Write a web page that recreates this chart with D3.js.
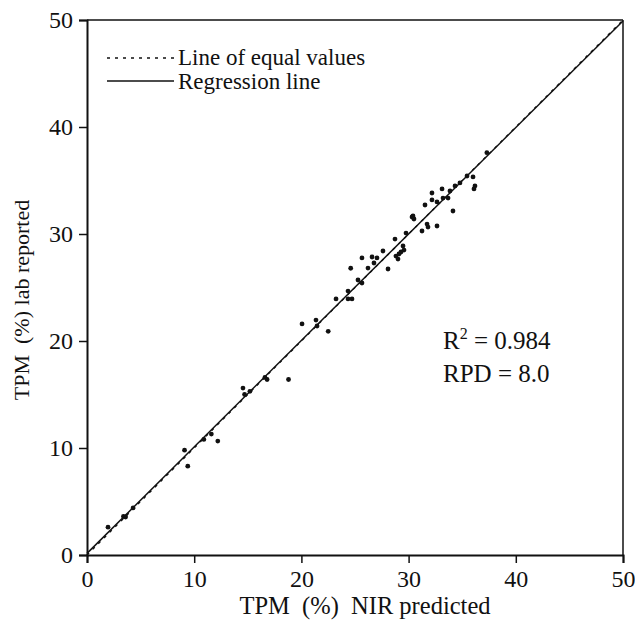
<!DOCTYPE html>
<html>
<head>
<meta charset="utf-8">
<script src="https://cdn.jsdelivr.net/npm/d3@7"></script>
<style>
  body { margin: 0; background: #fff; }
  text { font-family: "Liberation Serif", "Times New Roman", serif; fill: #111; }
</style>
</head>
<body>
<script>
var width = 635;
var height = 623;

// NIR predicted (x) vs lab reported (y)
var nirPredicted = [1.96, 3.4, 3.6, 4.3, 9.1, 9.4, 10.9, 11.6, 12.2, 14.55, 14.7, 15.2, 16.6, 16.8, 18.8,
  20.06, 21.36, 21.46, 22.5, 23.23, 24.35, 24.35, 24.72, 24.6, 25.28, 25.65, 25.65, 26.21, 26.59, 26.77,
  27.05, 27.61, 28.08, 28.73, 28.82, 29.01, 29.10, 29.29, 29.48, 29.57, 29.76, 30.32, 30.41, 30.50, 31.25,
  31.53, 31.72, 31.81, 32.18, 32.18, 32.65, 32.65, 33.12, 33.21, 33.68, 33.86, 34.14, 34.33, 34.79, 35.45,
  36.01, 36.19, 36.10, 37.3];
var labReported = [2.6, 3.6, 3.55, 4.4, 9.8, 8.3, 10.8, 11.3, 10.65, 15.6, 15.0, 15.3, 16.6, 16.4, 16.4,
  21.6, 21.96, 21.4, 20.9, 23.93, 24.67, 23.93, 23.93, 26.8, 25.7, 25.42, 27.76, 26.82, 27.85, 27.29,
  27.76, 28.41, 26.73, 29.53, 27.94, 27.66, 28.13, 28.32, 28.88, 28.5, 30.09, 31.59, 31.68, 31.4, 30.28,
  32.71, 30.93, 30.65, 33.83, 33.18, 33.0, 30.75, 34.21, 33.36, 33.36, 34.02, 32.15, 34.49, 34.77, 35.42,
  35.33, 34.49, 34.21, 37.6];

var tickValues = [0, 10, 20, 30, 40, 50];
var regression = {slope: 0.995, intercept: 0.15};
var statLines = ["R\u00b2 = 0.984", "RPD = 8.0"];

var svg = d3.select("body").append("svg")
    .attr("width", width)
    .attr("height", height);

var x = d3.scaleLinear().domain([0, 50]).range([87, 623]);
var y = d3.scaleLinear().domain([0, 50]).range([555, 20]);

// frame top/right
svg.append("line").attr("x1", x(0)).attr("x2", x(50)).attr("y1", y(50)).attr("y2", y(50))
    .attr("stroke", "#111").attr("stroke-width", 1.5);
svg.append("line").attr("x1", x(50)).attr("x2", x(50)).attr("y1", y(0)).attr("y2", y(50))
    .attr("stroke", "#111").attr("stroke-width", 1.5);

var xAxis = svg.append("g")
    .attr("transform", "translate(0," + y(0) + ")")
    .call(d3.axisBottom(x).tickValues(tickValues).tickSize(8).tickPadding(7));
var yAxis = svg.append("g")
    .attr("transform", "translate(" + x(0) + ",0)")
    .call(d3.axisLeft(y).tickValues(tickValues).tickSize(8).tickPadding(6));

[xAxis, yAxis].forEach(function(g) {
    g.select(".domain").attr("stroke", "#111").attr("stroke-width", 2);
    g.selectAll(".tick line").attr("stroke", "#111").attr("stroke-width", 1.5);
    g.selectAll(".tick text").attr("font-size", "24px").attr("font-family", "Liberation Serif").attr("fill", "#111");
});

// lines
svg.append("line")
    .attr("x1", x(0)).attr("y1", y(0)).attr("x2", x(50)).attr("y2", y(50))
    .attr("stroke", "#111").attr("stroke-width", 1.3).attr("stroke-dasharray", "3,5");
svg.append("line")
    .attr("x1", x(0)).attr("y1", y(regression.intercept))
    .attr("x2", x(50)).attr("y2", y(regression.slope * 50 + regression.intercept))
    .attr("stroke", "#111").attr("stroke-width", 1.5);

// points
svg.selectAll("circle.pt")
    .data(nirPredicted.map(function(v, i) { return [v, labReported[i]]; }))
    .enter().append("circle")
    .attr("class", "pt")
    .attr("cx", d => x(d[0]))
    .attr("cy", d => y(d[1]))
    .attr("r", 2.4)
    .attr("fill", "#111");

// legend
svg.append("line").attr("x1", 107).attr("x2", 174).attr("y1", 58).attr("y2", 58)
    .attr("stroke", "#111").attr("stroke-width", 1.5).attr("stroke-dasharray", "3,5");
svg.append("text").attr("x", 178).attr("y", 65).attr("font-size", "23px").text("Line of equal values");
svg.append("line").attr("x1", 107).attr("x2", 174).attr("y1", 81).attr("y2", 81)
    .attr("stroke", "#111").attr("stroke-width", 1.5);
svg.append("text").attr("x", 178).attr("y", 89).attr("font-size", "23px").text("Regression line");

// stats
var r2 = svg.append("text").attr("x", 443).attr("y", 349).attr("font-size", "25px");
r2.append("tspan").text("R");
r2.append("tspan").attr("dy", -10).attr("font-size", "16px").text("2");
r2.append("tspan").attr("dy", 10).text(" = 0.984");
svg.append("text").attr("x", 443).attr("y", 382).attr("font-size", "25px").text(statLines[1]);

// axis titles
svg.append("text").attr("x", 365).attr("y", 614).attr("text-anchor", "middle")
    .attr("font-size", "24.5px").attr("xml:space", "preserve").text("TPM  (%)  NIR predicted");
svg.append("text").attr("transform", "translate(29,300) rotate(-90)").attr("text-anchor", "middle")
    .attr("font-size", "22px").attr("xml:space", "preserve").text("TPM  (%) lab reported");
</script>
</body>
</html>
